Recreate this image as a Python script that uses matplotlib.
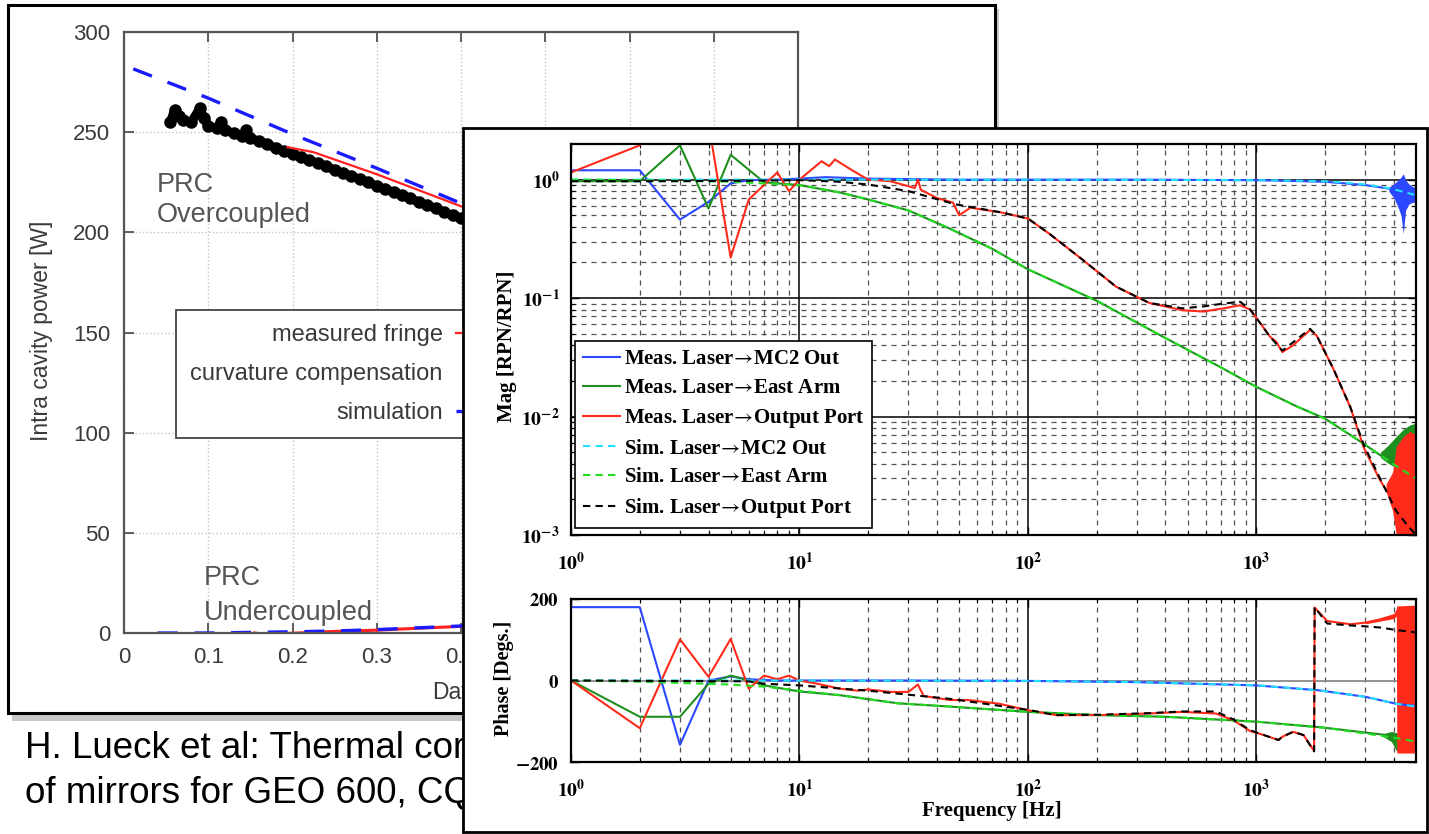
import math

import matplotlib
matplotlib.use("Agg")
import matplotlib.pyplot as plt
from matplotlib.patches import Rectangle
from matplotlib.font_manager import FontProperties
from matplotlib.ticker import FixedLocator, FuncFormatter, NullFormatter, NullLocator

# ── Left figure (GEO 600 intra cavity power) ─────────────────────────────
days_sim_over = [0.011, 0.1, 0.2, 0.3, 0.4, 0.5]
power_sim_over = [281.6, 267.0, 249.0, 232.0, 214.5, 197.0]

days_fringe = [0.194, 0.225, 0.30, 0.40, 0.45]
power_fringe = [242.5, 240.0, 229.0, 213.0, 206.0]

days_comp = [0.055, 0.06, 0.065, 0.07, 0.08, 0.09, 0.095, 0.10, 0.11, 0.115,
             0.12, 0.13, 0.14, 0.145, 0.15, 0.16, 0.17, 0.18, 0.19, 0.20,
             0.21, 0.22, 0.23, 0.24, 0.25, 0.26, 0.27, 0.28, 0.29, 0.30,
             0.31, 0.32, 0.33, 0.34, 0.35, 0.36, 0.37, 0.38, 0.39, 0.40,
             0.41, 0.42]
power_comp = [255, 261, 258, 256, 255, 262, 257, 253, 252, 255,
              251, 249.5, 248, 251, 247, 245.5, 244, 242, 240.5, 239,
              237.5, 236, 234.5, 233, 231, 229.5, 228, 226.5, 225, 223,
              221.5, 220, 218.5, 217, 215, 213.5, 212, 210, 208.5, 207,
              205, 203]

days_sim_under = [0.04, 0.10, 0.15, 0.20, 0.25, 0.30, 0.35, 0.40, 0.45]
power_sim_under = [0.0, 0.0, 0.3, 0.6, 1.0, 1.7, 2.6, 3.5, 4.5]
days_meas_under = [0.155, 0.17, 0.19, 0.25, 0.30, 0.35, 0.40, 0.45]
power_meas_under = [0.0, -1.0, -0.3, 0.8, 1.4, 2.4, 3.3, 4.3]

day_ticks = [0, 0.1, 0.2, 0.3, 0.4, 0.5, 0.6, 0.7, 0.8]
day_labels = ["0", "0.1", "0.2", "0.3", "0.4", "0.5", "0.6", "0.7", "0.8"]
power_ticks = [0, 50, 100, 150, 200, 250, 300]

# ── Right figure: magnitude ──────────────────────────────────────────────
f_mc2_meas = [1, 2, 3, 4, 5, 6, 8, 10, 13, 20, 50, 100, 300, 1000, 2000, 3000, 3800]
mag_mc2_meas = [1.2, 1.2, 0.46, 0.65, 0.93, 0.99, 1.0, 1.02, 1.05, 1.02, 1.0,
                1.0, 1.0, 0.99, 0.96, 0.9, 0.84]
f_mc2_sim = [1, 10, 100, 1000, 1500, 2000, 2500, 3000, 3500, 4000, 4500, 5000]
mag_mc2_sim = [1.0, 1.0, 1.0, 0.99, 0.98, 0.97, 0.94, 0.91, 0.87, 0.83, 0.78, 0.74]

f_east_meas = [1, 2, 3, 4, 5, 7, 10, 15, 20, 30, 45, 70, 100, 200, 400, 700,
               1000, 1500, 2000, 2800, 3500]
mag_east_meas = [0.97, 0.97, 1.95, 0.57, 1.62, 0.95, 0.9, 0.78, 0.68, 0.55,
                 0.39, 0.26, 0.175, 0.095, 0.046, 0.026, 0.0178, 0.0122,
                 0.0096, 0.0063, 0.0047]
f_east_sim = [1, 2, 3, 5, 7, 10, 15, 20, 30, 45, 70, 100, 200, 400, 700, 1000,
              1500, 2000, 2800, 3500, 4200, 5000]
mag_east_sim = [1.0, 0.99, 0.98, 0.96, 0.93, 0.9, 0.78, 0.68, 0.55, 0.39, 0.26,
                0.175, 0.095, 0.046, 0.026, 0.0178, 0.0122, 0.0096, 0.0063,
                0.0047, 0.0037, 0.003]

f_out_meas = [1, 2, 3, 4, 5, 6, 8, 9, 10, 12.5, 13.5, 14.3, 17, 20, 25, 30,
              32, 33, 34, 40, 47, 50, 56, 76, 100, 124, 174, 243, 340, 475,
              585, 720, 850, 940, 1050, 1150, 1220, 1300, 1450, 1720, 1840,
              2180, 2580, 2950, 3480, 3700]
mag_out_meas = [1.15, 1.95, 6.0, 3.0, 0.22, 0.68, 1.15, 0.8, 1.0, 1.43, 1.3,
                1.48, 1.2, 1.0, 0.97, 0.88, 0.85, 1.0, 0.82, 0.7, 0.64, 0.5,
                0.58, 0.53, 0.47, 0.35, 0.21, 0.125, 0.091, 0.079, 0.077,
                0.082, 0.087, 0.08, 0.06, 0.047, 0.043, 0.035, 0.04, 0.054,
                0.048, 0.025, 0.012, 0.0055, 0.0029, 0.0024]
f_out_sim = [1, 3, 6, 10, 15, 20, 30, 48, 76, 100, 124, 174, 243, 340, 475,
             585, 720, 850, 940, 1150, 1300, 1720, 1840, 2180, 2580, 2950,
             3480, 4090, 4600, 5000]
mag_out_sim = [0.97, 0.97, 0.98, 0.99, 0.96, 0.91, 0.8, 0.62, 0.53, 0.47,
               0.35, 0.21, 0.125, 0.091, 0.082, 0.085, 0.09, 0.093, 0.08,
               0.047, 0.036, 0.055, 0.048, 0.025, 0.012, 0.0058, 0.003,
               0.0016, 0.0012, 0.001]

# noise envelopes at the high frequency end
f_noise_mc2 = [3800, 4000, 4150, 4300, 4400, 4500, 4650, 4800, 5000]
lo_noise_mc2 = [0.8, 0.7, 0.6, 0.5, 0.35, 0.55, 0.62, 0.64, 0.65]
hi_noise_mc2 = [0.86, 0.92, 0.98, 1.05, 1.12, 1.0, 0.92, 0.88, 0.85]
f_noise_east = [3500, 3800, 4100, 4400, 4700, 5000]
lo_noise_east = [0.0045, 0.004, 0.0037, 0.0035, 0.0033, 0.0032]
hi_noise_east = [0.005, 0.0058, 0.0068, 0.0078, 0.0085, 0.0088]
f_noise_out = [3700, 3950, 4100, 4400, 4700, 5000]
lo_noise_out = [0.0023, 0.0016, 0.001, 0.001, 0.001, 0.001]
hi_noise_out = [0.0027, 0.0034, 0.0056, 0.0068, 0.0075, 0.007]

# ── Right figure: phase ──────────────────────────────────────────────────
ph_f_mc2_meas = [1, 2, 3, 4, 5, 6, 8, 10, 30, 100, 300, 1000, 1870, 3000,
                 4090, 4500, 5000]
ph_mc2_meas = [180, 180, -158, 0, 10, 3, 0, 0, 0, -1, -4, -12, -24, -40,
               -57, -60, -62]
ph_f_mc2_sim = [1, 10, 100, 300, 1000, 1870, 3000, 4090, 5000]
ph_mc2_sim = [0, 0, -1, -4, -12, -24, -40, -57, -64]

ph_f_east_meas = [1, 2, 3, 4, 5, 6, 7, 10, 15, 27, 45.6, 100, 205, 400, 1000,
                  2000, 3600, 4090]
ph_east_meas = [0, -89, -89, -8, 12, 0, -12, -27, -36, -56, -64, -77, -85,
                -89, -101, -116, -133, -141]
ph_f_east_sim = [1, 2, 3, 5, 7, 10, 15, 27, 45.6, 100, 205, 400, 1000, 2000,
                 4090, 5000]
ph_east_sim = [0, -3, -6, -10, -15, -25, -36, -56, -64, -77, -85, -89, -101,
               -116, -141, -150]

ph_f_out_meas = [1, 2, 3, 4, 5, 6, 7, 8, 9, 10, 12, 15, 18, 20, 25, 30, 33,
                 35, 45.6, 55, 75, 100, 133, 205, 340, 475, 665, 790, 940,
                 1080, 1250, 1300, 1450, 1610, 1790, 1800, 2040, 2580, 3000,
                 3480, 4000]
ph_out_meas = [0, -117, 101, 9, 102, -20, 12, 3, 12, 0, -8, -20, -25, -22,
               -28, -28, -10, -38, -48, -48, -57, -73, -85, -85, -81, -77,
               -81, -97, -124, -134, -146, -138, -126, -134, -173, 179, 146,
               138, 142, 150, 160]
ph_f_out_sim = [1, 6, 7, 10, 20, 45.6, 100, 133, 205, 340, 475, 665, 790, 940,
                1080, 1250, 1300, 1450, 1610, 1790, 1800, 2040, 2580, 3000,
                3480, 4090, 5000]
ph_out_sim = [0, -2, -8, -12, -25, -45, -72, -85, -84, -80, -76, -76, -95,
              -122, -134, -146, -138, -126, -134, -174, 180, 140, 135, 133,
              130, 124, 118]

ph_f_noise_out = [3000, 3500, 4000, 4100, 4120, 5000]
ph_lo_noise_out = [139, 146, 152, 158, -178, -178]
ph_hi_noise_out = [144, 152, 164, 176, 183, 185]
ph_f_noise_east = [3600, 3900, 4100, 4300, 5000]
ph_lo_noise_east = [-138, -150, -172, -170, -165]
ph_hi_noise_east = [-130, -125, -128, -130, -135]

freq_decades = [1, 10, 100, 1000]
mag_decades = [1e-3, 1e-2, 1e-1, 1e0]
phase_ticks = [-200, 0, 200]

ARROW = r"$\!\rightarrow\!$"
legend_labels = [
    "Meas. Laser" + ARROW + "MC2 Out",
    "Meas. Laser" + ARROW + "East Arm",
    "Meas. Laser" + ARROW + "Output Port",
    "Sim. Laser" + ARROW + "MC2 Out",
    "Sim. Laser" + ARROW + "East Arm",
    "Sim. Laser" + ARROW + "Output Port",
]

# ── Layout helpers (pixel coordinates, origin top-left) ──────────────────
W, H = 1429, 834


def fx(x):
    return x / W


def fy(y):
    return 1 - y / H


def rect(x0, y0, x1, y1):
    return [x0 / W, 1 - y1 / H, (x1 - x0) / W, (y1 - y0) / H]


plt.rcParams["mathtext.fontset"] = "stix"

fig = plt.figure(figsize=(W / 100, H / 100), dpi=100)
fig.patch.set_facecolor("white")

SANS = ["Liberation Sans", "DejaVu Sans"]
SERIF = ["Liberation Serif", "DejaVu Serif"]
GREY_T = "#3a3a3a"

# left frame + shadow
fig.add_artist(Rectangle((fx(12), fy(721)), (995 - 8) / W, (721 - 9) / H,
                         transform=fig.transFigure, facecolor="#c8c8c8",
                         edgecolor="none", zorder=0.3))
fig.add_artist(Rectangle((fx(8), fy(713)), (995 - 8) / W, (713 - 5) / H,
                         transform=fig.transFigure, facecolor="white",
                         edgecolor="black", linewidth=2.2, zorder=0.5))

# ── Left axes ────────────────────────────────────────────────────────────
ax = fig.add_axes(rect(124, 32, 798, 633), zorder=1)
ax.set_facecolor("none")
ax.plot(days_meas_under, power_meas_under, color="#ff2020", lw=2.2)
ax.plot(days_sim_under, power_sim_under, color="#1a1aff", lw=2.4, ls=(0, (6, 5)))
ax.plot(days_comp, power_comp, "-o", color="black", lw=6.5, ms=8)
ax.plot(days_fringe, power_fringe, color="#ff2020", lw=1.6, label="measured fringe")
ax.plot([], [], "o", color="black", ms=5, label="curvature compensation")
ax.plot(days_sim_over, power_sim_over, color="#1a1aff", lw=2.4, ls=(0, (6, 5)))
ax.plot([], [], color="#1a1aff", lw=2.4, ls=(0, (6, 5)), label="simulation")
ax.set_xlim(0, 0.8)
ax.set_ylim(0, 300)
ax.set_xticks(day_ticks)
ax.set_xticklabels(day_labels)
ax.set_yticks(power_ticks)
ax.grid(True, color="#c4c4c4", ls=":", lw=1.0)
ax.tick_params(direction="in", length=7, width=1.2, top=True, right=True,
               labelsize=16, labelcolor=GREY_T, color="#444", pad=10,
               labelfontfamily=SANS)
for sp in ax.spines.values():
    sp.set_color("#555")
    sp.set_linewidth(1.6)
leg = ax.legend(loc="upper left", bbox_to_anchor=(fx(176), fy(310)),
                bbox_transform=fig.transFigure, borderaxespad=0,
                markerfirst=False, fancybox=False, framealpha=1,
                edgecolor="#444", handlelength=3.0, handletextpad=0.55,
                labelspacing=0.72, borderpad=0.6,
                prop=FontProperties(family=SANS, size=17))
leg.get_frame().set_linewidth(1.3)
for t in leg.get_texts():
    t.set_color(GREY_T)

ax.text(0.039, 220, "PRC", fontsize=19.5, color="#555", family=SANS)
ax.text(0.039, 205, "Overcoupled", fontsize=19.5, color="#555", family=SANS)
ax.text(0.095, 24, "PRC", fontsize=19.5, color="#555", family=SANS)
ax.text(0.095, 6.5, "Undercoupled", fontsize=19.5, color="#555", family=SANS)

fig.text(fx(42), fy(331), "Intra cavity power [W]", rotation=90, ha="center",
         va="center", fontsize=16.5, color=GREY_T, family=SANS, zorder=1.2)
fig.text(fx(432), fy(693), "Days", ha="left", va="center", fontsize=16.5,
         color=GREY_T, family=SANS, zorder=1.2)

# caption
fig.text(fx(25), fy(758), "H. Lueck et al: Thermal correction", fontsize=26.5,
         family=SANS, va="baseline", zorder=1.5)
fig.text(fx(25), fy(803), "of mirrors for GEO 600, CQG 21 (2004)", fontsize=26.5,
         family=SANS, va="baseline", zorder=1.5)

# ── Right panel ──────────────────────────────────────────────────────────
fig.add_artist(Rectangle((fx(463), fy(832)), (1427 - 463) / W, (832 - 128) / H,
                         transform=fig.transFigure, facecolor="white",
                         edgecolor="black", linewidth=2.0, zorder=2))

BLUE = "#2b48ff"
DGREEN = "#1f8f1f"
RED = "#ff2a1a"
CYAN = "#22e0ff"
LGREEN = "#22dd22"
DASH = (0, (3.5, 2.5))


def decade_fmt(v, pos):
    return r"$\mathbf{10^{%d}}$" % round(math.log10(v))


def style_bode(a):
    a.set_xscale("log")
    a.set_xlim(1, 5000)
    a.xaxis.set_major_locator(FixedLocator(freq_decades))
    a.xaxis.set_major_formatter(FuncFormatter(decade_fmt))
    a.xaxis.set_minor_locator(FixedLocator(
        [m * d for d in freq_decades for m in range(2, 10) if m * d < 5000]))
    a.xaxis.set_minor_formatter(NullFormatter())
    a.set_axisbelow(True)
    a.xaxis.grid(True, which="major", color="black", lw=1.1, ls="-")
    a.xaxis.grid(True, which="minor", color="#333", lw=0.9, ls=(0, (4, 4)), alpha=0.85)
    a.tick_params(which="both", direction="in", top=True, right=True,
                  labelsize=14, pad=8)
    a.tick_params(axis="x", which="major", pad=12)
    a.tick_params(which="major", length=6, width=1.0)
    a.tick_params(which="minor", length=3, width=0.8)
    for sp in a.spines.values():
        sp.set_linewidth(1.6)


# magnitude
axm = fig.add_axes(rect(571, 144, 1416, 535), zorder=3)
style_bode(axm)
axm.set_yscale("log")
axm.set_ylim(1e-3, 2)
axm.yaxis.set_major_locator(FixedLocator(mag_decades))
axm.yaxis.set_major_formatter(FuncFormatter(decade_fmt))
axm.yaxis.set_minor_locator(FixedLocator(
    [m * d for d in mag_decades[:-1] for m in range(2, 10)]))
axm.yaxis.set_minor_formatter(NullFormatter())
axm.yaxis.grid(True, which="major", color="black", lw=1.1, ls="-")
axm.yaxis.grid(True, which="minor", color="#333", lw=0.9, ls=(0, (4, 4)), alpha=0.85)

axm.fill_between(f_noise_east, lo_noise_east, hi_noise_east, color=DGREEN, lw=0)
axm.fill_between(f_noise_out, lo_noise_out, hi_noise_out, color=RED, lw=0)
axm.fill_between(f_noise_mc2, lo_noise_mc2, hi_noise_mc2, color=BLUE, lw=0)
h1, = axm.plot(f_mc2_meas, mag_mc2_meas, color=BLUE, lw=1.5)
h2, = axm.plot(f_east_meas, mag_east_meas, color=DGREEN, lw=1.5)
h3, = axm.plot(f_out_meas, mag_out_meas, color=RED, lw=1.5)
h4, = axm.plot(f_mc2_sim, mag_mc2_sim, color=CYAN, lw=1.5, ls=DASH)
h5, = axm.plot(f_east_sim, mag_east_sim, color=LGREEN, lw=1.5, ls=DASH)
h6, = axm.plot(f_out_sim, mag_out_sim, color="black", lw=1.5, ls=DASH)
lg = axm.legend([h1, h2, h3, h4, h5, h6], legend_labels, loc="lower left",
                bbox_to_anchor=(fx(575), fy(528)), bbox_transform=fig.transFigure,
                borderaxespad=0, fancybox=False, framealpha=1, edgecolor="black",
                handlelength=1.8, handletextpad=0.15, labelspacing=0.42,
                borderpad=0.38,
                prop=FontProperties(family=SERIF, weight="bold", size=15))
lg.get_frame().set_linewidth(1.2)

# phase
axp = fig.add_axes(rect(571, 599, 1416, 762), zorder=3)
style_bode(axp)
axp.set_ylim(-200, 200)
axp.yaxis.set_major_locator(FixedLocator(phase_ticks))
axp.yaxis.set_major_formatter(FuncFormatter(lambda v, p: r"$\mathbf{%d}$" % v))
axp.yaxis.set_minor_locator(NullLocator())
axp.tick_params(axis="y", labelsize=13.5, pad=9)
axp.yaxis.grid(True, which="major", color="#8a8a8a", lw=1.3, ls="-")

axp.fill_between(ph_f_noise_east, ph_lo_noise_east, ph_hi_noise_east, color=DGREEN, lw=0)
axp.fill_between(ph_f_noise_out, ph_lo_noise_out, ph_hi_noise_out, color=RED, lw=0)
axp.plot(ph_f_mc2_meas, ph_mc2_meas, color=BLUE, lw=1.5)
axp.plot(ph_f_east_meas, ph_east_meas, color=DGREEN, lw=1.5)
axp.plot(ph_f_out_meas, ph_out_meas, color=RED, lw=1.5)
axp.plot(ph_f_mc2_sim, ph_mc2_sim, color=CYAN, lw=1.5, ls=DASH)
axp.plot(ph_f_east_sim, ph_east_sim, color=LGREEN, lw=1.5, ls=DASH)
axp.plot(ph_f_out_sim, ph_out_sim, color="black", lw=1.5, ls=DASH)

fig.text(fx(504), fy(678), "Phase [Degs.]", rotation=90, ha="center", va="center",
         fontsize=14.5, weight="bold", family=SERIF, zorder=3)
fig.text(fx(507), fy(346), "Mag [RPN/RPN]", rotation=90, ha="center", va="center",
         fontsize=15, weight="bold", family=SERIF, zorder=3)
fig.text(fx(992), fy(811), "Frequency [Hz]", ha="center", va="center",
         fontsize=15, weight="bold", family=SERIF, zorder=3)

fig.savefig("out.png", dpi=100, facecolor="white")
